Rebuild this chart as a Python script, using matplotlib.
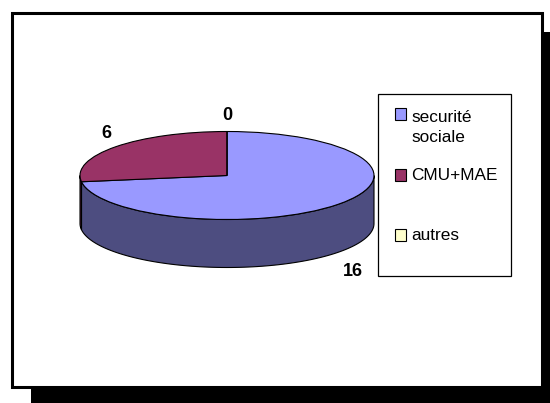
import numpy as np
import matplotlib
matplotlib.use("Agg")
import matplotlib.pyplot as plt
from matplotlib.patches import Rectangle

labels = ["securité\nsociale", "CMU+MAE", "autres"]
values = [16, 6, 0]
colors = ["#9999FF", "#993366", "#FFFFCC"]
side_colors = ["#4D4D80", "#4D1A33", "#808066"]

plt.rcParams['font.family'] = ['Liberation Sans', 'DejaVu Sans']

W, H = 550, 403
cx, cy, rx, ry, depth = 227, 175.5, 147, 44, 48

fig = plt.figure(figsize=(W / 100, H / 100), dpi=100)

# background in pixel coordinates
bg = fig.add_axes([0, 0, 1, 1])
bg.set_xlim(0, W)
bg.set_ylim(H, 0)
bg.axis("off")
bg.add_patch(Rectangle((31, 32), 530, 380, fc="black", ec="none"))
bg.add_patch(Rectangle((11.5, 12.5), 530, 374, fc="white", ec="black", lw=2.2))

# pie axes squashed so the circle comes out as the ellipse
ax = fig.add_axes([0, 0, 1, 1])
ax.patch.set_alpha(0)
wedges, _ = ax.pie(values, colors=colors, startangle=90, counterclock=False,
                   radius=1, wedgeprops=dict(ec="black", lw=0.8, zorder=3))
ax.set_aspect("auto")
ax.set_xlim(-cx / rx, (W - cx) / rx)
ax.set_ylim((cy - H) / ry, cy / ry)
ax.axis("off")

# side wall, only the front half of each slice shows
d = depth / ry
for w, col in zip(wedges, side_colors):
    a1, a2 = w.theta1, w.theta2
    if a1 < 0:
        a1 += 360
        a2 += 360
    t1 = max(a1, 180)
    t2 = min(a2, 360)
    if t2 <= t1:
        continue
    t = np.radians(np.linspace(t1, t2, 100))
    x = np.cos(t)
    y = np.sin(t)
    ax.fill(np.r_[x, x[::-1]], np.r_[y, y[::-1] - d], fc=col, ec="black", lw=0.8, zorder=2)

# labels and legend box
top = fig.add_axes([0, 0, 1, 1])
top.patch.set_alpha(0)
top.set_xlim(0, W)
top.set_ylim(H, 0)
top.axis("off")

label_pos = [(353, 272), (106, 134), (227, 116)]
for v, (px, py) in zip(values, label_pos):
    top.text(px, py, str(v), fontsize=13, fontweight="bold", ha="center", va="center")

top.add_patch(Rectangle((378, 94), 133, 182, fc="white", ec="black", lw=0.9))
legend_y = [114, 175, 235]
text_y = [127.5, 175, 235]
for lab, col, my, ty in zip(labels, colors, legend_y, text_y):
    top.add_patch(Rectangle((395, my - 6), 11, 12, fc=col, ec="black", lw=0.8))
    top.text(411, ty, lab, fontsize=12.4, ha="left", va="center", linespacing=1.45)

fig.savefig("out.png", dpi=100)
